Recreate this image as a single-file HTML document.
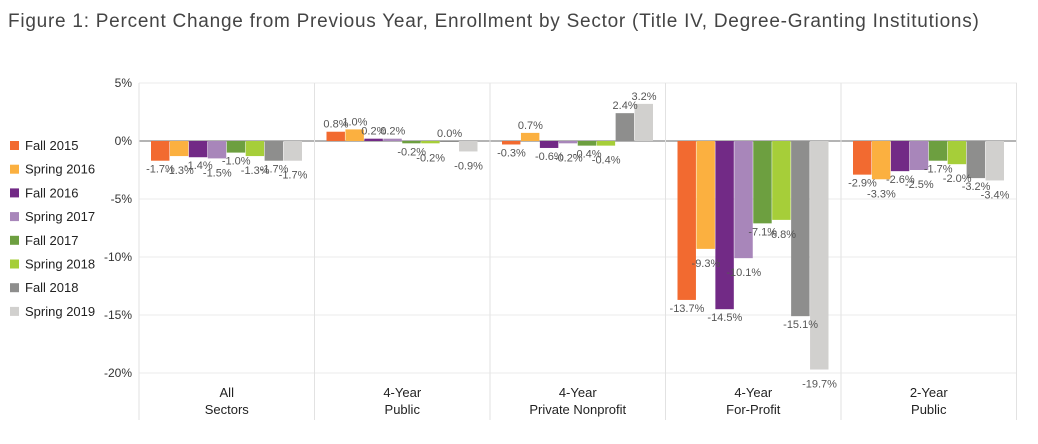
<!DOCTYPE html>
<html><head><meta charset="utf-8"><style>
body{margin:0;background:#fff;font-family:"Liberation Sans",sans-serif}
svg text{font-family:"Liberation Sans",sans-serif}
</style></head><body>
<svg width="1038" height="439">
<text x="8" y="27" font-size="19" letter-spacing="0.75" fill="#444">Figure 1: Percent Change from Previous Year, Enrollment by Sector (Title IV, Degree-Granting Institutions)</text>
<g id="grid"></g><g id="bars"></g><g id="labels"></g><g id="legend"></g>
</svg>
<script>
const categories=[["All","Sectors"],["4-Year","Public"],["4-Year","Private Nonprofit"],["4-Year","For-Profit"],["2-Year","Public"]];
const seriesNames=["Fall 2015","Spring 2016","Fall 2016","Spring 2017","Fall 2017","Spring 2018","Fall 2018","Spring 2019"];
const colors=["#f26a30","#fbb040","#722a86","#a886ba","#6d9f40","#a6ce39","#8e8e8d","#d1d0ce"];
const values=[
[-1.7,-1.3,-1.4,-1.5,-1.0,-1.3,-1.7,-1.7],
[0.8,1.0,0.2,0.2,-0.2,-0.2,0.0,-0.9],
[-0.3,0.7,-0.6,-0.2,-0.4,-0.4,2.4,3.2],
[-13.7,-9.3,-14.5,-10.1,-7.1,-6.8,-15.1,-19.7],
[-2.9,-3.3,-2.6,-2.5,-1.7,-2.0,-3.2,-3.4]];
const ticks=[5,0,-5,-10,-15,-20];
const NS="http://www.w3.org/2000/svg";
const y=v=>141-v*11.6;
const x0=139,gw=175.5,pad=12,bw=(gw-2*pad)/8;
function mk(t,a,p){const e=document.createElementNS(NS,t);for(const k in a)e.setAttribute(k,a[k]);document.getElementById(p).appendChild(e);return e;}
ticks.forEach(t=>{
 const l=mk("line",{x1:x0,x2:1017,y1:y(t),y2:y(t),stroke:t===0?"#888":"#ebebeb","stroke-width":t===0?1.2:1},"grid");
 
 
 const tx=mk("text",{x:132,y:y(t)+4,"text-anchor":"end","font-size":12,fill:"#333"},"grid");
 tx.textContent=t+"%";
 
 
});
for(let i=0;i<=categories.length;i++){
 const l=mk("line",{x1:x0+i*gw,x2:x0+i*gw,y1:83,y2:420,stroke:"#e2e2e2"},"grid");
 
 
}
categories.forEach((c,g)=>{
 c.forEach((s,k)=>{
  const t=mk("text",{x:x0+g*gw+gw/2,y:397+k*17,"text-anchor":"middle","font-size":13,fill:"#222"},"labels");
  t.textContent=s;
  
  
 });
 values[g].forEach((v,i)=>{
  const bx=x0+g*gw+pad+i*bw;
  const r=mk("rect",{x:bx,y:Math.min(y(v),y(0)),width:bw-0.5,height:Math.max(Math.abs(y(v)-y(0)),1),fill:colors[i]},"bars");
  
  
  const t=mk("text",{x:bx+bw/2,y:v>=0?y(v)-4:y(v)+12+(i%2)*6,"text-anchor":"middle","font-size":11,fill:"#555"},"labels");
  t.textContent=v.toFixed(1)+"%";
  
  
 });
});
seriesNames.forEach((n,i)=>{
 const r=mk("rect",{x:10,y:141+i*23.7,width:9,height:9,fill:colors[i]},"legend");
 
 
 const t=mk("text",{x:25,y:150+i*23.7,"font-size":13,fill:"#222"},"legend");
 t.textContent=n;
 
 
});
</script>
</body></html>
